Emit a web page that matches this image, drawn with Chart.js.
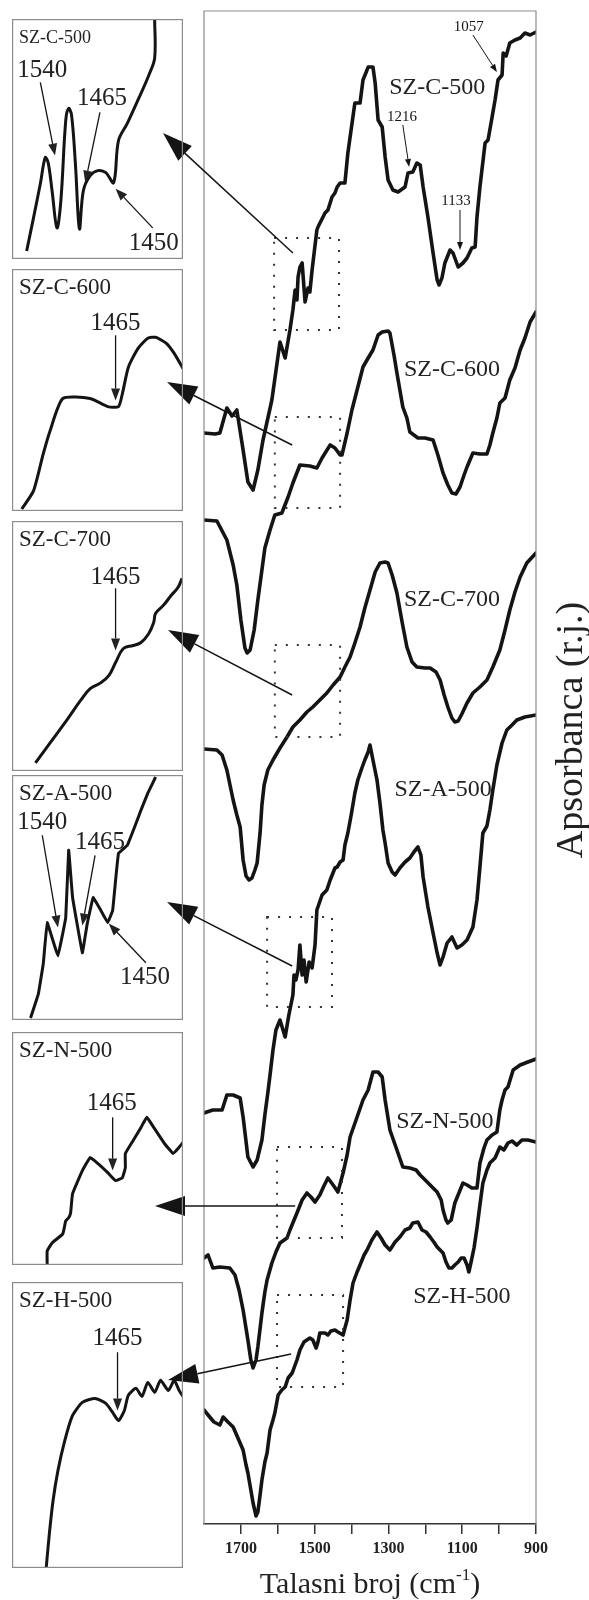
<!DOCTYPE html>
<html>
<head>
<meta charset="utf-8">
<script src="https://cdn.jsdelivr.net/npm/chart.js@4.4.1/dist/chart.umd.min.js"></script>
<style>
  html, body { margin: 0; padding: 0; background: #fff; }
  #wrap { position: relative; width: 589px; height: 1600px; }
  #wrap canvas { position: absolute; }
</style>
</head>
<body>
<div id="wrap">
  <canvas id="main" width="589" height="1600" style="left:0;top:0"></canvas>
</div>
<script>
// x axis labels (cm-1)
const tickLabels = [1700, 1500, 1300, 1100, 900];

// main spectra: [wavenumber, absorbance (offset, a.u.)]
const szC500 = [[1800,10.91],[1770,10.90],[1757,10.91],[1738,11.16],[1724,11.08],[1711,11.14],[1694,10.74],[1681,10.42],[1667,10.34],[1654,10.54],[1640,10.84],[1616,11.24],[1594,11.82],[1580,11.66],[1567,11.94],[1559,12.14],[1553,12.34],[1548,12.24],[1545,12.47],[1540,12.57],[1534,12.61],[1526,12.22],[1518,12.36],[1513,12.32],[1507,12.54],[1494,12.94],[1491,12.97],[1472,13.11],[1464,13.14],[1453,13.27],[1445,13.31],[1439,13.37],[1431,13.41],[1418,13.41],[1410,13.71],[1391,14.21],[1377,14.21],[1369,14.44],[1358,14.54],[1355,14.57],[1342,14.57],[1336,14.41],[1328,14.04],[1317,13.97],[1309,13.67],[1301,13.44],[1288,13.34],[1274,13.32],[1255,13.37],[1247,13.51],[1234,13.52],[1223,13.61],[1214,13.59],[1206,13.37],[1193,13.07],[1179,12.71],[1168,12.44],[1163,12.39],[1155,12.46],[1147,12.61],[1133,12.74],[1125,12.71],[1111,12.57],[1098,12.61],[1087,12.66],[1074,12.76],[1065,12.77],[1060,13.07],[1052,13.37],[1038,13.81],[1030,13.84],[1019,14.07],[1011,14.24],[1003,14.44],[992,14.49],[989,14.71],[981,14.68],[971,14.81],[957,14.84],[943,14.86],[930,14.91],[916,14.89],[900,14.92]];
const szC600 = [[1800,10.04],[1765,10.03],[1738,9.84],[1721,9.59],[1711,9.39],[1700,9.04],[1689,8.76],[1683,8.71],[1675,8.74],[1664,8.94],[1654,9.24],[1643,9.54],[1635,9.76],[1621,9.94],[1608,10.09],[1589,10.11],[1572,10.27],[1559,10.41],[1540,10.59],[1513,10.58],[1494,10.56],[1480,10.66],[1458,10.79],[1445,10.76],[1431,10.69],[1426,10.69],[1412,10.91],[1399,11.14],[1385,11.34],[1369,11.57],[1355,11.66],[1342,11.74],[1328,11.89],[1317,11.92],[1301,11.93],[1296,11.91],[1285,11.69],[1277,11.51],[1261,11.17],[1250,11.06],[1242,10.92],[1220,10.86],[1201,10.86],[1179,10.84],[1166,10.69],[1152,10.51],[1139,10.39],[1128,10.31],[1117,10.30],[1106,10.37],[1095,10.49],[1087,10.57],[1071,10.71],[1052,10.70],[1033,10.70],[1025,10.79],[1017,10.91],[1006,11.06],[998,11.21],[984,11.26],[971,11.44],[957,11.56],[943,11.74],[930,11.86],[916,12.02],[900,12.12]];
const szC700 = [[1800,7.75],[1765,7.74],[1751,7.69],[1738,7.54],[1721,7.24],[1711,7.09],[1702,6.97],[1694,6.64],[1686,6.48],[1678,6.44],[1670,6.46],[1662,6.54],[1656,6.61],[1648,6.91],[1643,7.19],[1637,7.39],[1627,7.54],[1613,7.64],[1594,7.76],[1575,7.87],[1559,7.97],[1540,8.04],[1521,8.12],[1505,8.17],[1486,8.24],[1467,8.31],[1450,8.39],[1431,8.47],[1418,8.57],[1404,8.67],[1391,8.81],[1377,8.97],[1364,9.16],[1350,9.34],[1336,9.52],[1323,9.61],[1309,9.62],[1301,9.61],[1290,9.49],[1277,9.31],[1263,9.02],[1250,8.77],[1236,8.62],[1223,8.57],[1201,8.56],[1187,8.56],[1171,8.52],[1160,8.44],[1149,8.29],[1139,8.17],[1128,8.06],[1120,8.02],[1111,8.03],[1101,8.10],[1087,8.21],[1071,8.31],[1052,8.37],[1033,8.44],[1017,8.57],[998,8.74],[984,8.94],[971,9.14],[957,9.32],[943,9.47],[925,9.61],[900,9.71]];
const szA500 = [[1800,4.11],[1776,4.14],[1751,4.14],[1738,4.29],[1721,4.29],[1702,4.26],[1694,4.07],[1681,3.67],[1667,3.57],[1656,3.64],[1643,3.84],[1635,4.09],[1627,4.31],[1621,4.49],[1613,4.74],[1605,4.94],[1594,5.04],[1580,4.87],[1570,5.09],[1559,5.29],[1556,5.49],[1551,5.44],[1545,5.54],[1540,5.79],[1534,5.49],[1529,5.64],[1523,5.42],[1515,5.62],[1507,5.56],[1499,5.79],[1494,6.14],[1480,6.29],[1467,6.34],[1458,6.44],[1445,6.56],[1439,6.57],[1431,6.62],[1423,6.64],[1418,6.79],[1410,6.91],[1401,7.09],[1391,7.31],[1383,7.44],[1372,7.56],[1364,7.64],[1355,7.72],[1350,7.79],[1342,7.64],[1331,7.44],[1323,7.21],[1315,6.94],[1309,6.81],[1301,6.61],[1290,6.52],[1282,6.49],[1269,6.56],[1255,6.62],[1242,6.66],[1231,6.72],[1220,6.77],[1212,6.69],[1206,6.47],[1193,6.17],[1179,5.91],[1168,5.71],[1160,5.59],[1152,5.67],[1141,5.81],[1128,5.87],[1114,5.76],[1101,5.79],[1087,5.84],[1071,5.97],[1060,6.24],[1052,6.57],[1044,6.91],[1033,6.98],[1025,7.14],[1017,7.34],[1006,7.59],[992,7.81],[984,7.89],[979,7.94],[965,7.99],[952,8.04],[930,8.07],[900,8.09]];
const szN500 = [[1800,2.66],[1789,2.69],[1776,2.56],[1757,2.57],[1730,2.56],[1716,2.49],[1705,2.34],[1694,2.14],[1681,1.84],[1673,1.64],[1667,1.56],[1659,1.64],[1654,1.77],[1643,2.11],[1635,2.32],[1629,2.44],[1616,2.61],[1605,2.72],[1594,2.81],[1575,2.86],[1567,2.94],[1548,3.11],[1534,3.24],[1521,3.31],[1510,3.27],[1499,3.22],[1486,3.29],[1475,3.38],[1464,3.46],[1450,3.39],[1437,3.32],[1423,3.51],[1412,3.69],[1404,3.87],[1385,4.07],[1369,4.24],[1355,4.34],[1342,4.52],[1328,4.52],[1317,4.47],[1309,4.24],[1296,3.94],[1277,3.74],[1261,3.57],[1242,3.56],[1225,3.54],[1214,3.49],[1195,3.42],[1179,3.36],[1168,3.32],[1157,3.24],[1152,3.14],[1144,3.04],[1139,3.01],[1130,3.04],[1120,3.21],[1109,3.31],[1098,3.41],[1087,3.39],[1074,3.36],[1060,3.36],[1052,3.61],[1041,3.76],[1033,3.84],[1019,3.89],[1006,3.92],[998,4.14],[992,4.24],[984,4.34],[976,4.37],[962,4.54],[943,4.59],[922,4.62],[900,4.65]];
const szH500 = [[1800,1.14],[1789,1.09],[1773,1.02],[1757,0.99],[1748,1.07],[1735,1.02],[1721,0.97],[1708,0.86],[1694,0.74],[1686,0.59],[1681,0.51],[1673,0.34],[1667,0.21],[1659,0.08],[1654,0.12],[1648,0.29],[1643,0.44],[1635,0.62],[1629,0.71],[1621,0.94],[1613,1.04],[1608,1.11],[1599,1.29],[1589,1.34],[1580,1.37],[1572,1.46],[1561,1.51],[1553,1.59],[1548,1.64],[1540,1.74],[1529,1.82],[1521,1.84],[1513,1.86],[1505,1.84],[1496,1.76],[1491,1.82],[1486,1.91],[1472,1.91],[1464,1.89],[1456,1.93],[1445,1.94],[1437,1.92],[1423,1.89],[1418,1.96],[1412,2.04],[1404,2.24],[1396,2.41],[1385,2.52],[1377,2.59],[1366,2.69],[1358,2.74],[1345,2.84],[1331,2.92],[1320,2.86],[1309,2.79],[1296,2.74],[1282,2.82],[1269,2.87],[1255,2.94],[1242,2.96],[1234,3.01],[1220,3.02],[1209,2.94],[1198,2.92],[1187,2.87],[1177,2.82],[1168,2.77],[1160,2.74],[1152,2.71],[1144,2.62],[1136,2.56],[1128,2.56],[1120,2.59],[1111,2.62],[1103,2.66],[1095,2.66],[1087,2.59],[1082,2.52],[1076,2.62],[1068,2.76],[1060,2.96],[1052,3.19],[1044,3.41],[1033,3.54],[1025,3.61],[1011,3.66],[998,3.77],[987,3.74],[976,3.81],[965,3.83],[952,3.79],[938,3.84],[922,3.84],[900,3.82]];

// enlarged 1610-1435 cm-1 regions (relative absorbance)
const insetC500 = [[1595,0.08],[1588,0.41],[1581,0.75],[1576,1.01],[1573,0.96],[1569,0.68],[1564,0.31],[1560,0.58],[1555,1.38],[1552,1.50],[1549,1.43],[1545,0.93],[1541,0.30],[1537,0.68],[1530,0.83],[1522,0.88],[1514,0.86],[1506,0.76],[1501,1.18],[1492,1.35],[1478,1.65],[1470,1.83],[1464,2.00],[1464,2.39]];
const insetC600 = [[1600,0.02],[1588,0.20],[1578,0.57],[1571,0.80],[1558,1.12],[1530,1.12],[1512,1.04],[1501,1.04],[1497,1.17],[1491,1.43],[1481,1.62],[1471,1.72],[1463,1.73],[1452,1.67],[1444,1.57],[1435,1.42]];
const insetC700 = [[1586,0.08],[1571,0.28],[1553,0.52],[1540,0.70],[1530,0.82],[1519,0.88],[1511,0.95],[1504,1.08],[1496,1.22],[1486,1.25],[1478,1.28],[1470,1.37],[1465,1.48],[1463,1.57],[1455,1.65],[1447,1.75],[1440,1.83],[1436,1.92]];
const insetA500 = [[1591,0.02],[1583,0.26],[1578,0.56],[1574,0.97],[1563,0.64],[1555,1.02],[1552,1.69],[1548,1.22],[1538,0.67],[1533,0.96],[1527,1.22],[1519,1.09],[1512,0.97],[1507,1.09],[1504,1.39],[1501,1.66],[1492,1.74],[1485,1.91],[1478,2.09],[1471,2.26],[1463,2.42]];
const insetN500 = [[1574,0.00],[1574,0.14],[1569,0.22],[1558,0.31],[1555,0.44],[1552,0.47],[1550,0.52],[1548,0.71],[1538,0.94],[1530,1.07],[1522,1.01],[1512,0.92],[1504,0.84],[1497,0.87],[1494,0.97],[1494,1.11],[1486,1.24],[1478,1.37],[1472,1.47],[1465,1.37],[1454,1.21],[1445,1.11],[1440,1.16],[1435,1.22]];
const insetH500 = [[1575,0.00],[1572,0.32],[1568,0.67],[1563,0.97],[1556,1.27],[1548,1.52],[1538,1.65],[1525,1.69],[1514,1.64],[1507,1.55],[1501,1.47],[1495,1.57],[1491,1.72],[1483,1.79],[1477,1.71],[1471,1.85],[1464,1.75],[1458,1.87],[1450,1.77],[1444,1.87],[1439,1.77],[1435,1.71]];

const sampleNames = ['SZ-C-500', 'SZ-C-600', 'SZ-C-700', 'SZ-A-500', 'SZ-N-500', 'SZ-H-500'];
const mainSeries = [szC500, szC600, szC700, szA500, szN500, szH500];

const SERIF = '"Liberation Serif", "Times New Roman", serif';
const INK = '#141414';

// ---- layout / annotation settings ----
const nameSpots = [[1168,14.36],[1128,11.54],[1128,9.24],[1152,7.34],[1147,4.02],[1101,2.27]];
const zoomBoxes = [[1610,1434,11.94,12.86],[1608,1431,10.16,11.07],[1608,1431,7.87,8.79],[1629,1453,5.17,6.07],[1602,1426,2.86,3.77],[1602,1423,1.37,2.29]];
const connectors = [
  {from: [1559, 12.71], tip: [163, 133]},
  {from: [1561, 10.79], tip: [167, 382]},
  {from: [1561, 8.29], tip: [168, 630]},
  {from: [1561, 5.58], tip: [167, 902]},
  {from: [1553, 3.18], tip: [155, 1206]},
  {from: [1564, 1.70], tip: [168, 1380]}
];
const mainMarks = [
  {text: '1216', at: [1263, 14.07], from: [1261, 13.99], to: [1244, 13.57]},
  {text: '1133', at: [1117, 13.23], from: [1106, 13.14], to: [1106, 12.74]},
  {text: '1057', at: [1082, 14.97], from: [1071, 14.89], to: [1006, 14.52]}
];

function arrow(ctx, x1, y1, x2, y2, len, half, lw) {
  const a = Math.atan2(y2 - y1, x2 - x1);
  const bx = x2 - len * Math.cos(a), by = y2 - len * Math.sin(a);
  ctx.lineWidth = lw;
  ctx.beginPath(); ctx.moveTo(x1, y1); ctx.lineTo(bx, by); ctx.stroke();
  ctx.beginPath();
  ctx.moveTo(x2, y2);
  ctx.lineTo(bx + half * Math.sin(a), by - half * Math.cos(a));
  ctx.lineTo(bx - half * Math.sin(a), by + half * Math.cos(a));
  ctx.closePath(); ctx.fill();
}

const mainDecor = {
  id: 'mainDecor',
  afterDatasetsDraw(chart) {
    const {ctx, chartArea: a, scales: {x, y}} = chart;
    const px = (p) => [x.getPixelForValue(p[0]), y.getPixelForValue(p[1])];
    ctx.save();
    // frame
    ctx.strokeStyle = '#8c8c8c'; ctx.lineWidth = 1.2;
    ctx.beginPath();
    ctx.moveTo(a.left, a.bottom); ctx.lineTo(a.left, a.top);
    ctx.lineTo(a.right, a.top); ctx.lineTo(a.right, a.bottom);
    ctx.stroke();
    // dotted zoom regions
    ctx.strokeStyle = '#333'; ctx.lineWidth = 2; ctx.setLineDash([2, 9]);
    zoomBoxes.forEach(([w1, w2, lo, hi]) => {
      const [x1, y1] = px([w1, hi]), [x2, y2] = px([w2, lo]);
      ctx.strokeRect(x1, y1, x2 - x1, y2 - y1);
    });
    ctx.setLineDash([]);
    // sample names
    ctx.fillStyle = '#222'; ctx.font = '24px ' + SERIF;
    ctx.textAlign = 'center'; ctx.textBaseline = 'middle';
    sampleNames.forEach((n, i) => { const [tx, ty] = px(nameSpots[i]); ctx.fillText(n, tx, ty); });
    // band marks
    ctx.font = '15px ' + SERIF; ctx.strokeStyle = INK; ctx.fillStyle = INK;
    mainMarks.forEach(m => {
      const [tx, ty] = px(m.at); ctx.fillText(m.text, tx, ty);
      const [fx, fy] = px(m.from), [ex, ey] = px(m.to);
      arrow(ctx, fx, fy, ex, ey, 8, 3, 1);
    });
    // connectors to the enlarged panels
    connectors.forEach(c => {
      const [fx, fy] = px(c.from);
      arrow(ctx, fx, fy, c.tip[0], c.tip[1], 30, 10, 1.5);
    });
    // x title with superscript
    ctx.fillStyle = '#222'; ctx.textAlign = 'left'; ctx.textBaseline = 'alphabetic';
    const big = '30px ' + SERIF, small = '17px ' + SERIF;
    ctx.font = big; const w1 = ctx.measureText('Talasni broj (cm').width, w3 = ctx.measureText(')').width;
    ctx.font = small; const w2 = ctx.measureText('-1').width;
    let sx = (a.left + a.right) / 2 - (w1 + w2 + w3) / 2;
    const base = 1593;
    ctx.font = big; ctx.fillText('Talasni broj (cm', sx, base); sx += w1;
    ctx.font = small; ctx.fillText('-1', sx, base - 13); sx += w2;
    ctx.font = big; ctx.fillText(')', sx, base);
    // y title
    ctx.translate(582, 730); ctx.rotate(-Math.PI / 2);
    ctx.font = '38px ' + SERIF; ctx.textAlign = 'center';
    ctx.fillText('Apsorbanca (r.j.)', 0, 0);
    ctx.restore();
  }
};

new Chart(document.getElementById('main'), {
  type: 'line',
  data: {
    datasets: mainSeries.map((s, i) => ({
      label: sampleNames[i],
      data: s.map(([wn, ab]) => ({x: wn, y: ab})),
      borderColor: INK, borderWidth: 3.6, pointRadius: 0, tension: 0,
      borderJoinStyle: 'round', borderCapStyle: 'round'
    }))
  },
  options: {
    responsive: false, animation: false, devicePixelRatio: 1,
    layout: {padding: {left: 204, right: 53, top: 11, bottom: 0}},
    plugins: {legend: {display: false}, tooltip: {enabled: false}},
    scales: {
      x: {
        type: 'linear', reverse: true, min: 900, max: 1800,
        afterFit: (s) => { s.height = 76; },
        grid: {drawOnChartArea: false, drawTicks: true, tickLength: 10, lineWidth: 1.5,
               color: (c) => (c.tick && c.tick.value === 1800) ? 'rgba(0,0,0,0)' : '#333'},
        border: {display: true, color: '#333', width: 1.5},
        ticks: {stepSize: 100, autoSkip: false, maxRotation: 0, padding: 5, color: '#222',
                font: {family: SERIF, size: 16, weight: 'bold'},
                callback: (v) => tickLabels.includes(v) ? String(v) : ''}
      },
      y: {display: false, min: 0, max: 15.13}
    }
  },
  plugins: [mainDecor]
});

// ---- enlarged panels ----
const insets = [
  {data: insetC500, top: 19, bottom: 258, labelPx: 18, tension: 0.35, marks: [
    {text: '1540', at: [1579, 1.88], from: [1581, 1.76], to: [1566, 1.03]},
    {text: '1465', at: [1518, 1.60], from: [1520, 1.46], to: [1535, 0.76]},
    {text: '1450', at: [1465, 0.15], from: [1466, 0.31], to: [1504, 0.70]}]},
  {data: insetC600, top: 269, bottom: 510, labelPx: 23, tension: 0.2, marks: [
    {text: '1465', at: [1504, 1.87], from: [1504, 1.75], to: [1504, 1.10]}]},
  {data: insetC700, top: 521, bottom: 770, labelPx: 23, tension: 0.4, marks: [
    {text: '1465', at: [1504, 1.93], from: [1504, 1.82], to: [1504, 1.20]}]},
  {data: insetA500, top: 775, bottom: 1019, labelPx: 23, tension: 0.05, marks: [
    {text: '1540', at: [1579, 1.97], from: [1579, 1.84], to: [1563, 0.92]},
    {text: '1465', at: [1520, 1.77], from: [1525, 1.64], to: [1538, 0.94]},
    {text: '1450', at: [1474, 0.42], from: [1473, 0.57], to: [1511, 0.96]}]},
  {data: insetN500, top: 1032, bottom: 1264, labelPx: 23, tension: 0.1, marks: [
    {text: '1465', at: [1508, 1.61], from: [1507, 1.47], to: [1507, 0.94]}]},
  {data: insetH500, top: 1282, bottom: 1567, labelPx: 23, tension: 0.2, marks: [
    {text: '1465', at: [1502, 2.29], from: [1502, 2.15], to: [1502, 1.57]}]}
];

const wrap = document.getElementById('wrap');
insets.forEach((p, i) => {
  const cv = document.createElement('canvas');
  const h = p.bottom - p.top + 1;
  cv.width = 171; cv.height = h;
  cv.style.left = '12px'; cv.style.top = p.top + 'px';
  wrap.appendChild(cv);
  const panelDecor = {
    id: 'panelDecor' + i,
    afterDatasetsDraw(chart) {
      const {ctx, scales: {x, y}} = chart;
      const px = (q) => [x.getPixelForValue(q[0]), y.getPixelForValue(q[1])];
      ctx.save();
      ctx.strokeStyle = '#8c8c8c'; ctx.lineWidth = 1.2;
      ctx.strokeRect(0.6, 0.6, chart.width - 1.2, chart.height - 1.2);
      ctx.fillStyle = '#222'; ctx.textBaseline = 'middle'; ctx.textAlign = 'left';
      ctx.font = p.labelPx + 'px ' + SERIF;
      ctx.fillText(sampleNames[i], 7, 19);
      ctx.font = '25px ' + SERIF; ctx.textAlign = 'center';
      ctx.strokeStyle = INK; ctx.fillStyle = '#222';
      p.marks.forEach(m => {
        const [tx, ty] = px(m.at); ctx.fillText(m.text, tx, ty);
        const [fx, fy] = px(m.from), [ex, ey] = px(m.to);
        arrow(ctx, fx, fy, ex, ey, 12, 4.5, 1.3);
      });
      ctx.restore();
    }
  };
  new Chart(cv, {
    type: 'line',
    data: {datasets: [{
      data: p.data.map(([wn, ab]) => ({x: wn, y: ab})),
      borderColor: INK, borderWidth: 3, pointRadius: 0, tension: p.tension,
      borderJoinStyle: 'round'
    }]},
    options: {
      responsive: false, animation: false, devicePixelRatio: 1,
      layout: {padding: 0},
      plugins: {legend: {display: false}, tooltip: {enabled: false}},
      scales: {
        x: {type: 'linear', reverse: true, min: 1435, max: 1610, display: false},
        y: {min: 0, max: (p.bottom - p.top) / 100, display: false}
      }
    },
    plugins: [panelDecor]
  });
});
</script>
</body>
</html>
